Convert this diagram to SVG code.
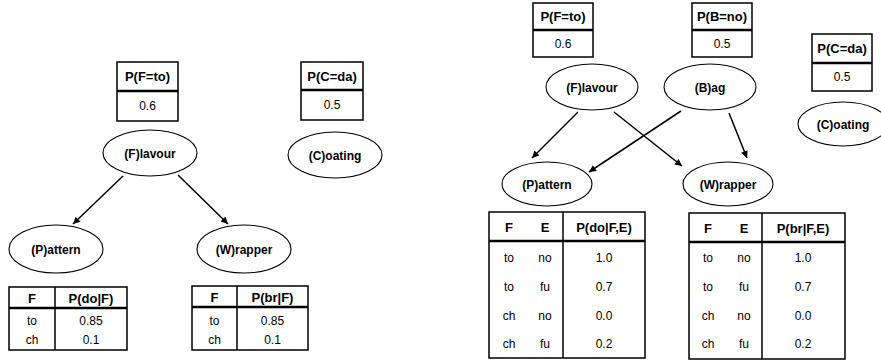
<svg xmlns="http://www.w3.org/2000/svg" width="881" height="360" viewBox="0 0 881 360">
<defs>
<style>
.box{fill:#fff;stroke:#000;stroke-width:1.5}
.div{stroke:#000;stroke-width:1.5}
.hdiv{stroke:#000;stroke-width:2.5}
.node{fill:#fff;stroke:#000;stroke-width:1.1}
text{fill:#000}
.lbl{font-family:"Liberation Sans",Arial,sans-serif;font-weight:bold;font-size:12px;text-anchor:middle}
.hd{font-family:"Liberation Sans",Arial,sans-serif;font-weight:bold;font-size:13px;text-anchor:middle}
.val{font-family:"Liberation Sans",Arial,sans-serif;font-size:12px;text-anchor:middle}
.sm{font-family:"Liberation Sans",Arial,sans-serif;font-size:12px;text-anchor:middle}
.edge{stroke:#000;stroke-width:1.5;fill:none;marker-end:url(#arr)}
</style>
<marker id="arr" viewBox="0 0 10 10" refX="10" refY="5" markerWidth="10" markerHeight="7" markerUnits="userSpaceOnUse" orient="auto">
<path d="M0,0 L10,5 L0,10 z" fill="#000"/>
</marker>
</defs>
<rect width="881" height="360" fill="#fff"/>

<g id="connectors">
<line class="edge" x1="123" y1="176" x2="73" y2="224"/>
<line class="edge" x1="178" y1="175" x2="228" y2="224"/>
<line class="edge" x1="578" y1="112" x2="532" y2="158"/>
<line class="edge" x1="614" y1="112" x2="682" y2="166"/>
<line class="edge" x1="681" y1="111" x2="589" y2="172"/>
<line class="edge" x1="729" y1="113" x2="747" y2="158"/>
</g>

<!-- Left network -->
<g id="L-prior-F">
<rect class="box" x="117" y="62" width="61" height="59"/>
<line class="hdiv" x1="117" y1="91" x2="178" y2="91"/>
<text class="hd" x="147.5" y="81">P(F=to)</text>
<text class="val" x="147.5" y="110">0.6</text>
</g>
<g id="L-prior-C">
<rect class="box" x="301" y="62" width="62" height="58"/>
<line class="hdiv" x1="301" y1="90" x2="363" y2="90"/>
<text class="hd" x="332" y="81">P(C=da)</text>
<text class="val" x="332" y="109">0.5</text>
</g>
<g id="L-flavour">
<ellipse class="node" cx="150" cy="153" rx="47" ry="23"/>
<text class="lbl" x="150" y="157.5">(F)lavour</text>
</g>
<g id="L-coating">
<ellipse class="node" cx="335" cy="155" rx="47" ry="23"/>
<text class="lbl" x="335" y="159.5">(C)oating</text>
</g>
<g id="L-pattern">
<ellipse class="node" cx="56" cy="249" rx="47" ry="24"/>
<text class="lbl" x="56" y="253.5">(P)attern</text>
</g>
<g id="L-wrapper">
<ellipse class="node" cx="244" cy="249" rx="47" ry="24"/>
<text class="lbl" x="244" y="253.5">(W)rapper</text>
</g>
<g id="L-cpt-P">
<rect class="box" x="9" y="287" width="118" height="63"/>
<line class="div" x1="55" y1="287" x2="55" y2="350"/>
<line class="hdiv" x1="9" y1="308" x2="127" y2="308"/>
<text class="hd" x="32" y="303">F</text>
<text class="hd" x="91" y="303">P(do|F)</text>
<text class="sm" x="32" y="325">to</text>
<text class="val" x="91" y="325">0.85</text>
<text class="sm" x="32" y="344">ch</text>
<text class="val" x="91" y="344">0.1</text>
</g>
<g id="L-cpt-W">
<rect class="box" x="192" y="286" width="116" height="64"/>
<line class="div" x1="237" y1="286" x2="237" y2="350"/>
<line class="hdiv" x1="192" y1="307" x2="308" y2="307"/>
<text class="hd" x="214.5" y="302">F</text>
<text class="hd" x="272.5" y="302">P(br|F)</text>
<text class="sm" x="214.5" y="325">to</text>
<text class="val" x="272.5" y="325">0.85</text>
<text class="sm" x="214.5" y="344">ch</text>
<text class="val" x="272.5" y="344">0.1</text>
</g>

<!-- Right network -->
<g id="R-prior-F">
<rect class="box" x="533" y="3" width="60" height="54"/>
<line class="hdiv" x1="533" y1="30" x2="593" y2="30"/>
<text class="hd" x="563" y="21">P(F=to)</text>
<text class="val" x="563" y="48">0.6</text>
</g>
<g id="R-prior-B">
<rect class="box" x="692" y="3" width="60" height="54"/>
<line class="hdiv" x1="692" y1="30" x2="752" y2="30"/>
<text class="hd" x="722" y="21">P(B=no)</text>
<text class="val" x="722" y="48">0.5</text>
</g>
<g id="R-prior-C">
<rect class="box" x="812" y="34" width="60" height="57"/>
<line class="hdiv" x1="812" y1="63" x2="872" y2="63"/>
<text class="hd" x="842" y="53">P(C=da)</text>
<text class="val" x="842" y="81">0.5</text>
</g>
<g id="R-flavour">
<ellipse class="node" cx="592" cy="87" rx="46" ry="23"/>
<text class="lbl" x="592" y="91.5">(F)lavour</text>
</g>
<g id="R-bag">
<ellipse class="node" cx="710" cy="87" rx="46" ry="23"/>
<text class="lbl" x="710" y="91.5">(B)ag</text>
</g>
<g id="R-coating">
<ellipse class="node" cx="843" cy="124" rx="45" ry="22"/>
<text class="lbl" x="843" y="128.5">(C)oating</text>
</g>
<g id="R-pattern">
<ellipse class="node" cx="547" cy="184" rx="45" ry="22"/>
<text class="lbl" x="547" y="188.5">(P)attern</text>
</g>
<g id="R-wrapper">
<ellipse class="node" cx="728" cy="184" rx="45" ry="22"/>
<text class="lbl" x="728" y="188.5">(W)rapper</text>
</g>
<g id="R-cpt-P">
<rect class="box" x="489" y="212" width="156" height="146"/>
<line class="div" x1="563" y1="212" x2="563" y2="358"/>
<line class="hdiv" x1="489" y1="241" x2="645" y2="241"/>
<text class="hd" x="509" y="232">F</text>
<text class="hd" x="545" y="232">E</text>
<text class="hd" x="604" y="232">P(do|F,E)</text>
<text class="sm" x="509" y="262">to</text><text class="sm" x="545" y="262">no</text><text class="val" x="604" y="262">1.0</text>
<text class="sm" x="509" y="291">to</text><text class="sm" x="545" y="291">fu</text><text class="val" x="604" y="291">0.7</text>
<text class="sm" x="509" y="320">ch</text><text class="sm" x="545" y="320">no</text><text class="val" x="604" y="320">0.0</text>
<text class="sm" x="509" y="348">ch</text><text class="sm" x="545" y="348">fu</text><text class="val" x="604" y="348">0.2</text>
</g>
<g id="R-cpt-W">
<rect class="box" x="689" y="213" width="156" height="146"/>
<line class="div" x1="762" y1="213" x2="762" y2="359"/>
<line class="hdiv" x1="689" y1="242" x2="845" y2="242"/>
<text class="hd" x="708" y="233">F</text>
<text class="hd" x="744" y="233">E</text>
<text class="hd" x="803" y="233">P(br|F,E)</text>
<text class="sm" x="708" y="262">to</text><text class="sm" x="744" y="262">no</text><text class="val" x="803" y="262">1.0</text>
<text class="sm" x="708" y="291">to</text><text class="sm" x="744" y="291">fu</text><text class="val" x="803" y="291">0.7</text>
<text class="sm" x="708" y="320">ch</text><text class="sm" x="744" y="320">no</text><text class="val" x="803" y="320">0.0</text>
<text class="sm" x="708" y="348">ch</text><text class="sm" x="744" y="348">fu</text><text class="val" x="803" y="348">0.2</text>
</g>
</svg>
